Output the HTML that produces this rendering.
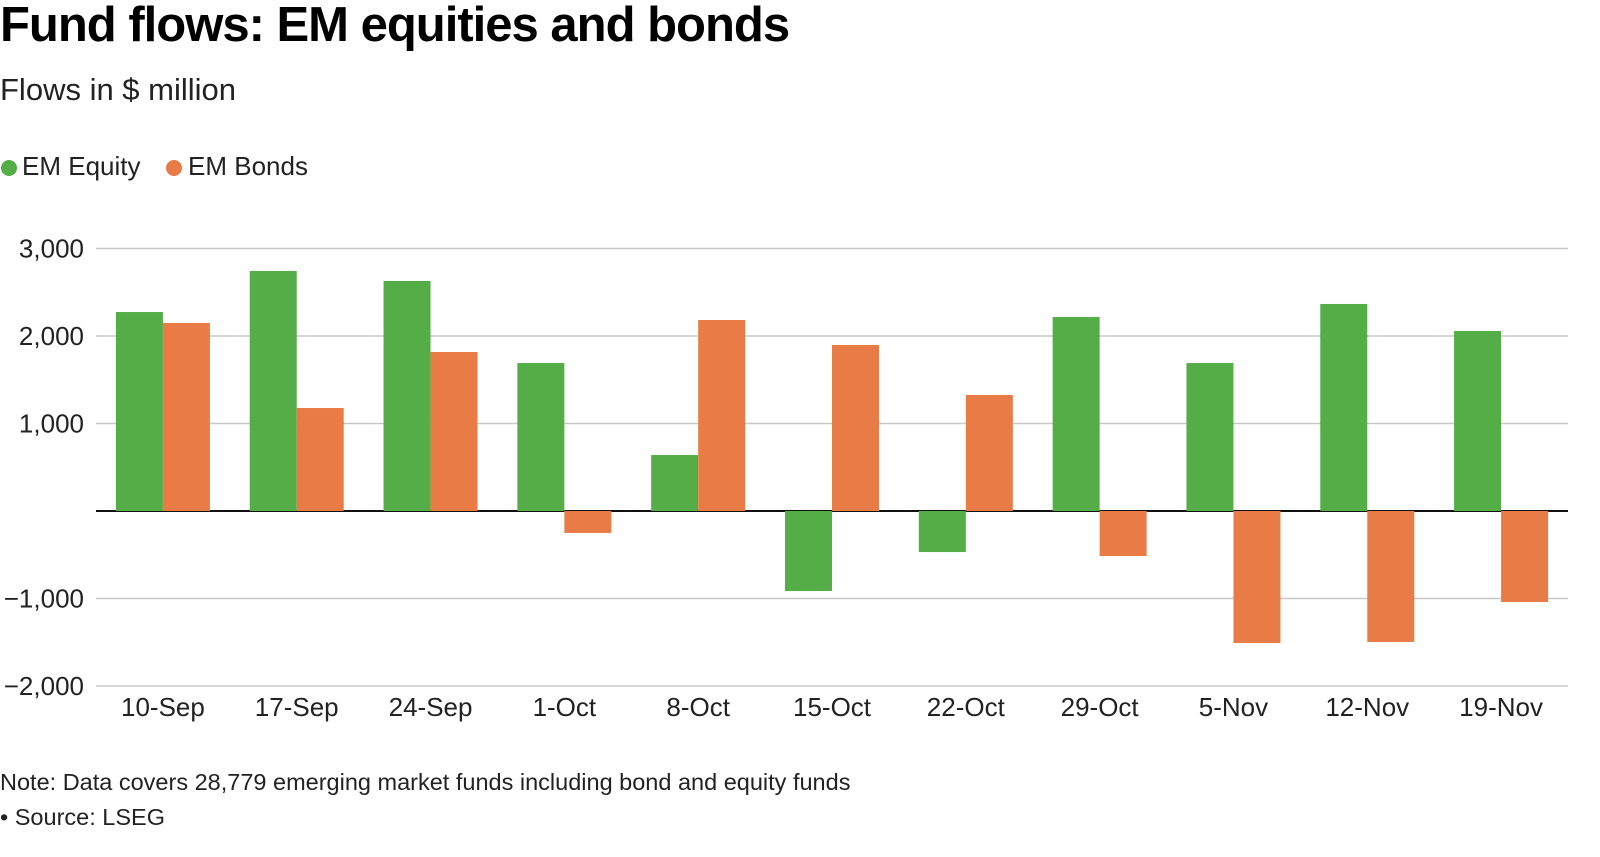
<!DOCTYPE html>
<html><head><meta charset="utf-8"><style>
body{margin:0;background:#fff;width:1600px;height:852px;overflow:hidden;font-family:"Liberation Sans",Arial,sans-serif;color:#111}
</style></head><body>
<svg width="1600" height="852" xmlns="http://www.w3.org/2000/svg" font-family="Liberation Sans, Arial, sans-serif">
<text x="0" y="41" font-size="49" font-weight="bold" letter-spacing="-1">Fund flows: EM equities and bonds</text>
<text x="0" y="100" font-size="31" fill="#222">Flows in $ million</text>
<g>
<circle cx="9" cy="168" r="8" fill="#54ad47"/>
<text x="22" y="175" font-size="26" fill="#222">EM Equity</text>
<circle cx="174" cy="168" r="8" fill="#e97b47"/>
<text x="188" y="175" font-size="26" fill="#222">EM Bonds</text>
</g>
<g id="grid"></g><g id="bars"></g><g id="xl"></g>
<text x="0" y="790" font-size="23.5" fill="#222">Note: Data covers 28,779 emerging market funds including bond and equity funds</text>
<text x="0" y="825" font-size="23.5" fill="#222">• Source: LSEG</text>
</svg>
<script>
const categories=["10-Sep","17-Sep","24-Sep","1-Oct","8-Oct","15-Oct","22-Oct","29-Oct","5-Nov","12-Nov","19-Nov"];
const equity=[2274,2743,2629,1691,640,-914,-469,2217,1691,2366,2057];
const bonds=[2149,1177,1817,-251,2183,1897,1326,-514,-1509,-1497,-1040];
const ticks=[3000,2000,1000,0,-1000,-2000];
const tickLabels=["3,000","2,000","1,000","","\u22121,000","\u22122,000"];
const NS="http://www.w3.org/2000/svg";
const x0=96,x1=1568;
function y(v){return 511-v*0.0875;}
const bw=(x1-x0)/categories.length;
function xc(i){return x0+bw*(i+0.5);}
const grid=document.getElementById('grid'),bars=document.getElementById('bars'),xl=document.getElementById('xl');
function mk(tag,attrs,parent){const e=document.createElementNS(NS,tag);for(const k in attrs)e.setAttribute(k,attrs[k]);parent.appendChild(e);return e;}
ticks.forEach((t,i)=>{
 const l=mk('line',{x1:x0,x2:x1,y1:y(t),y2:y(t),stroke:t===0?'#111':'#c8c8c8','stroke-width':t===0?2:1.5},grid);
 
 
 if(tickLabels[i]){const tx=mk('text',{x:84,y:y(t)+9,'font-size':26,'text-anchor':'end',fill:'#222'},grid);tx.textContent=tickLabels[i];
 
 }
});
const w=47;
categories.forEach((c,i)=>{
 const cx=xc(i);
 [[equity[i],'#54ad47',cx-w,'equity'],[bonds[i],'#e97b47',cx,'bonds']].forEach(([v,col,bx,nm])=>{
  const r=mk('rect',{x:bx,y:Math.min(y(v),y(0)),width:w,height:Math.abs(y(v)-y(0)),fill:col},bars);
  
  
 });
 const t=mk('text',{x:cx,y:716,'font-size':26,'text-anchor':'middle',fill:'#222'},xl);t.textContent=c;
 
 
});
</script>
</body></html>
